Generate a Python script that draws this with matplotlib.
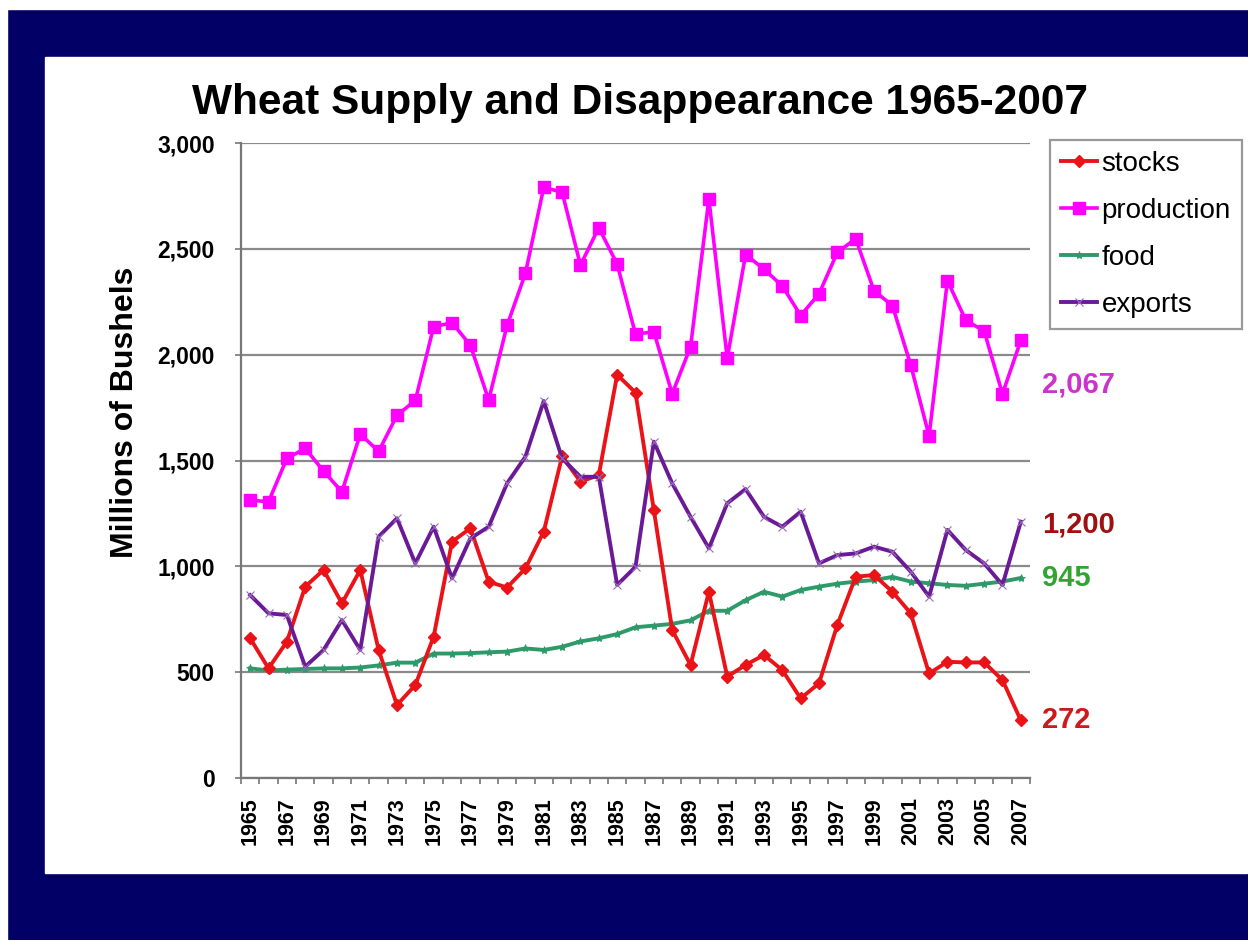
import matplotlib
matplotlib.use("Agg")
from matplotlib import pyplot as plt
from matplotlib.patches import Rectangle
from matplotlib.ticker import FuncFormatter, FixedLocator

plt.rcParams['font.family'] = ['Liberation Sans', 'DejaVu Sans']

years = list(range(1965, 2008))

stocks = [660, 518, 644, 904, 983, 825, 983, 605, 345, 439,
          668, 1116, 1180, 927, 900, 990, 1164, 1520, 1400, 1431,
          1905, 1821, 1266, 699, 534, 880, 479, 534, 581, 510,
          376, 447, 723, 951, 959, 880, 778, 494, 549, 546,
          546, 463, 272]
production = [1313, 1305, 1510, 1557, 1450, 1352, 1625, 1543, 1713, 1784,
              2132, 2151, 2045, 1786, 2138, 2384, 2790, 2768, 2423, 2600,
              2428, 2097, 2108, 1815, 2037, 2735, 1983, 2473, 2404, 2325,
              2185, 2287, 2483, 2548, 2302, 2232, 1951, 1616, 2350, 2162,
              2112, 1815, 2067]
food = [518, 508, 512, 515, 518, 518, 522, 532, 545, 545,
        588, 588, 590, 594, 597, 612, 605, 620, 645, 660,
        680, 712, 720, 728, 745, 790, 790, 840, 880, 857,
        888, 904, 918, 928, 935, 950, 928, 920, 912, 908,
        918, 928, 945]
exports = [864, 778, 770, 526, 605, 746, 605, 1140, 1227, 1014,
           1187, 943, 1132, 1187, 1392, 1518, 1781, 1510, 1423, 1423,
           912, 998, 1589, 1392, 1234, 1085, 1298, 1365, 1234, 1187,
           1258, 1014, 1053, 1061, 1093, 1069, 975, 857, 1172, 1077,
           1014, 912, 1211]

end_labels = ["2,067", "1,200", "945", "272"]

W, H = 1248, 940
fig = plt.figure(figsize=(W / 100, H / 100), dpi=100, facecolor='#020066')

# white page strips and the white slide panel, kept behind the axes
fig.patches.append(Rectangle((0, 1 - 9 / H), 1, 9 / H, transform=fig.transFigure,
                             color='white', zorder=-10))
fig.patches.append(Rectangle((0, 0), 7 / W, 1, transform=fig.transFigure,
                             color='white', zorder=-10))
fig.patches.append(Rectangle((45 / W, 1 - 873 / H), (1247 - 45) / W, (873 - 57) / H,
                             transform=fig.transFigure, color='white', zorder=-10))

ax = fig.add_axes([241 / W, 1 - 778 / H, (1030 - 241) / W, 635 / H])
ax.set_zorder(1)
ax.set_facecolor('white')

x = list(range(len(years)))
ax.plot(x, stocks, color='#ea1418', lw=2.8, marker='D', ms=6.5,
        label='stocks', zorder=4)
ax.plot(x, production, color='#ff00ff', lw=2.6, marker='s', ms=9,
        label='production', zorder=3)
ax.plot(x, food, color='#2e9a6a', lw=2.8, marker='*', ms=6, mew=0.6,
        label='food', zorder=3)
ax.plot(x, exports, color='#6a1a96', lw=2.8, marker='x', ms=6, mew=0.8,
        mec='#9a6ab8', label='exports', zorder=5)

ax.set_xlim(-0.5, len(years) - 0.5)
ax.set_ylim(0, 3000)
ax.set_yticks(range(0, 3001, 500))
ax.yaxis.set_major_formatter(FuncFormatter(lambda v, p: f"{int(v):,}"))
ax.grid(axis='y', color='#8a8a8a', lw=1.6)
ax.set_axisbelow(True)

ax.set_xticks(x[::2])
ax.set_xticklabels([str(y) for y in years[::2]], rotation=90)
ax.xaxis.set_minor_locator(FixedLocator([i - 0.5 for i in range(len(years) + 1)]))
ax.tick_params(axis='x', which='major', length=0, pad=14, labelsize=15.5)
ax.tick_params(axis='x', which='minor', length=4, width=1.2, color='#777777')
ax.tick_params(axis='y', length=4, width=1.2, color='#777777', pad=15, labelsize=16.5)
for lab in ax.get_xticklabels() + ax.get_yticklabels():
    lab.set_fontweight('bold')

for side in ['top', 'right']:
    ax.spines[side].set_visible(False)
for side in ['left', 'bottom']:
    ax.spines[side].set_color('#777777')
    ax.spines[side].set_linewidth(1.6)

fig.text(640 / W, 1 - 103 / H, "Wheat Supply and Disappearance 1965-2007",
         ha='center', va='center', fontsize=30.5, fontweight='bold')
fig.text(125 / W, 1 - 412 / H, "Millions of Bushels", rotation=90,
         ha='center', va='center', fontsize=23, fontweight='bold')

# value labels to the right of the last year
label_colors = ['#cc33cc', '#a01010', '#33a333', '#cc1a1a']
label_y = [1860, exports[-1] - 11, food[-1], stocks[-1]]
for txt, c, yv in zip(end_labels, label_colors, label_y):
    ax.text(1.015, yv, txt, transform=ax.get_yaxis_transform(), color=c,
            fontsize=21, fontweight='bold', ha='left', va='center', clip_on=False)

leg = fig.legend(loc='upper left', bbox_to_anchor=(1050 / W, 1 - 140 / H),
                 fontsize=20, frameon=True, fancybox=False, borderpad=0.4,
                 labelspacing=0.75, handlelength=1.3, handletextpad=0.15,
                 borderaxespad=0)
leg.get_frame().set_edgecolor('#808080')
leg.get_frame().set_linewidth(1.6)
leg.set_zorder(2)

fig.savefig('out.png', dpi=100, facecolor=fig.get_facecolor())
